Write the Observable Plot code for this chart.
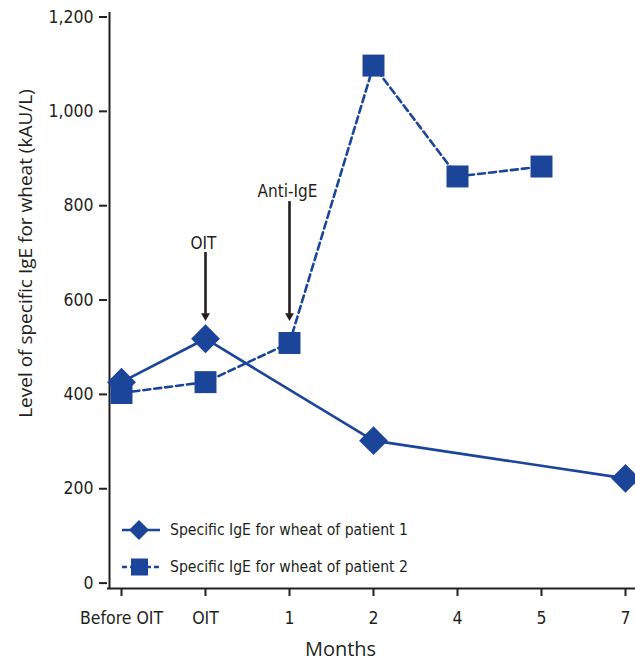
<!DOCTYPE html>
<html><head><meta charset="utf-8">
<script src="https://cdn.jsdelivr.net/npm/d3@7"></script>
<script src="https://cdn.jsdelivr.net/npm/@observablehq/plot@0.6"></script>
<style>
body{margin:0;background:#fff;}
#wrap{position:relative;width:635px;height:662px;}
.legend{position:absolute;left:120px;top:511px;font-family:"Liberation Sans Narrow","DejaVu Sans Condensed",sans-serif;font-size:15.6px;color:#231f20;}
.legend .row{display:flex;align-items:center;height:37px;}
.legend svg{margin-right:8px;}
</style></head><body><div id="wrap"></div>
<script>
const months = ["Before OIT","OIT","1","2","4","5","7"];
const patient1Months = ["Before OIT","OIT","2","7"];
const patient1Values = [426, 518, 302, 222];
const patient2Months = ["Before OIT","OIT","1","2","4","5"];
const patient2Values = [403, 426, 509, 1097, 862, 883];
const yTicks = [0, 200, 400, 600, 800, 1000, 1200];
const annotationLabels = ["OIT", "Anti-IgE"];
const annotationMonths = ["OIT", "1"];
const annotationTop = [688, 796];
const annotationTip = [557, 557];
const annotationTextY = [719, 831];
const seriesNames = ["Specific IgE for wheat of patient 1", "Specific IgE for wheat of patient 2"];

const blue = "#1b4598";
const ink = "#231f20";
const p1 = patient1Months.map((m, i) => ({month: m, value: patient1Values[i]}));
const p2 = patient2Months.map((m, i) => ({month: m, value: patient2Values[i]}));
const ann = annotationLabels.map((l, i) => ({label: l, month: annotationMonths[i], top: annotationTop[i], tip: annotationTip[i], ty: annotationTextY[i]}));

const chart = Plot.plot({
  width: 635,
  height: 662,
  marginLeft: 107,
  marginRight: 0,
  marginTop: 12,
  marginBottom: 74,
  insetLeft: 12,
  insetRight: 9,
  insetTop: 4.5,
  insetBottom: 5.4,
  style: {fontFamily: '"Liberation Sans Narrow","DejaVu Sans Condensed",sans-serif', fontSize: "17.5px", color: ink, background: "#fff"},
  x: {type: "point", domain: months, padding: 0},
  y: {domain: [0, 1200]},
  marks: [
    Plot.axisY({ticks: yTicks, tickFormat: d3.format(","), tickSize: 8, tickPadding: 6, strokeWidth: 2, label: null}),
    Plot.axisX({tickSize: 8, tickPadding: 15, strokeWidth: 2, label: null}),
    Plot.ruleX(["Before OIT"], {dx: -12, stroke: ink, strokeWidth: 2}),
    Plot.ruleY([0], {dy: 5.4, stroke: ink, strokeWidth: 2}),
    Plot.text(["Level of specific IgE for wheat (kAU/L)"], {frameAnchor: "top-left", textAnchor: "middle", dx: -89, dy: 241, rotate: -90, fontSize: 19, fontFamily: '"Open Sans", sans-serif', fill: ink}),
    Plot.text(["Months"], {frameAnchor: "bottom", dx: -31, dy: 67, fontSize: 20, fontFamily: '"Open Sans", sans-serif', fill: ink}),
    Plot.ruleX(ann, {x: "month", y1: "top", y2: "tip", dy: -6, stroke: ink, strokeWidth: 2.6}),
    Plot.dot(ann, {x: "month", y: "tip", symbol: "triangle", rotate: 180, r: 3.3, fill: ink, dy: -4.5}),
    Plot.text(ann, {x: "month", y: "ty", text: "label", dx: -2, fontSize: 17, fill: ink}),
    Plot.line(p2, {x: "month", y: "value", stroke: blue, strokeWidth: 2.6, strokeDasharray: "7,4"}),
    Plot.line(p1, {x: "month", y: "value", stroke: blue, strokeWidth: 2.6}),
    Plot.dot(p2, {x: "month", y: "value", symbol: "square", r: 12.4, fill: blue}),
    Plot.dot(p1, {x: "month", y: "value", symbol: "diamond2", r: 13, fill: blue})
  ]
});
const wrap = document.getElementById("wrap");
wrap.appendChild(chart);

const legend = document.createElement("div");
legend.className = "legend";
legend.innerHTML = `
<div class="row"><svg width="42" height="24"><line x1="2" y1="12" x2="40" y2="12" stroke="${blue}" stroke-width="2.4"/><path d="M19,2L29,12L19,22L9,12Z" fill="${blue}"/></svg><span>${seriesNames[0]}</span></div>
<div class="row"><svg width="42" height="24"><line x1="2" y1="12" x2="40" y2="12" stroke="${blue}" stroke-width="2.4" stroke-dasharray="5,3"/><rect x="11" y="3.5" width="17" height="17" fill="${blue}"/></svg><span>${seriesNames[1]}</span></div>`;
wrap.appendChild(legend);
</script>
</body></html>
